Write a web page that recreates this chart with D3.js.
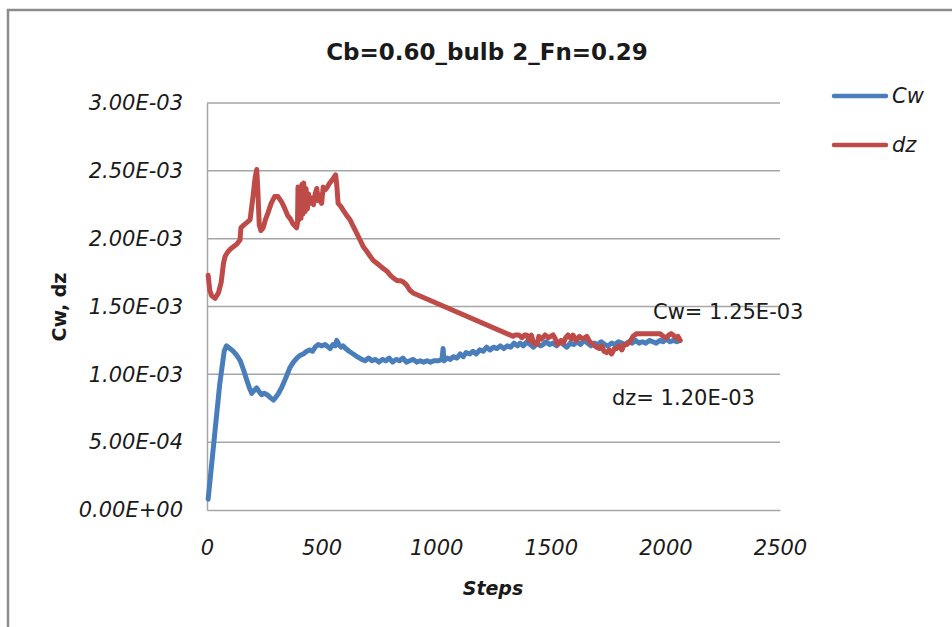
<!DOCTYPE html>
<html>
<head>
<meta charset="utf-8">
<script src="https://cdn.jsdelivr.net/npm/d3@7"></script>
<style>
  body { margin: 0; background: #fff; }
  svg { display: block; }
  text { font-family: "DejaVu Sans", sans-serif; fill: #1a1a1a; }
</style>
</head>
<body>
<svg id="chart" width="952" height="627"></svg>
<script>
// valores en unidades de 1E-03
var UNIT = 1e-3;

var xTicks = [0, 500, 1000, 1500, 2000, 2500];
var yTicks = [0, 0.5, 1.0, 1.5, 2.0, 2.5, 3.0];

var cwSteps = [5, 30, 55, 75, 85, 100, 115, 130, 145, 160, 173, 185, 195, 205, 217, 228, 238, 250, 262, 275,
  290, 300, 312, 325, 338, 350, 362, 377, 392, 406, 420, 435, 449, 460, 472, 485, 500, 515, 530, 537,
  550, 560, 566, 575, 585, 594, 605, 620, 638, 655, 675, 690, 705, 720, 735, 750, 765, 780, 795, 810,
  825, 840, 855, 870, 885, 900, 915, 930, 945, 960, 975, 990, 1010, 1025, 1030, 1034, 1048, 1062, 1075, 1090,
  1105, 1118, 1130, 1147, 1160, 1175, 1190, 1205, 1220, 1235, 1250, 1265, 1280, 1295, 1310, 1325, 1340, 1355, 1366, 1380,
  1395, 1410, 1425, 1440, 1455, 1466, 1480, 1495, 1510, 1525, 1540, 1555, 1570, 1585, 1600, 1615, 1630, 1645, 1660, 1675,
  1690, 1705, 1720, 1735, 1750, 1765, 1780, 1795, 1810, 1825, 1840, 1855, 1870, 1885, 1900, 1915, 1930, 1945, 1960, 1975,
  1990, 2005, 2020, 2035, 2050, 2064];
var cwValues = [0.08, 0.50, 0.92, 1.17, 1.21, 1.19, 1.17, 1.14, 1.10, 1.03, 0.96, 0.90, 0.86, 0.88, 0.90, 0.87, 0.85, 0.86, 0.85, 0.83,
  0.81, 0.83, 0.86, 0.90, 0.95, 1.00, 1.05, 1.09, 1.12, 1.14, 1.15, 1.17, 1.18, 1.17, 1.20, 1.22, 1.21, 1.22, 1.20, 1.19,
  1.22, 1.21, 1.25, 1.22, 1.20, 1.21, 1.19, 1.17, 1.15, 1.13, 1.11, 1.10, 1.12, 1.10, 1.11, 1.09, 1.11, 1.10, 1.12, 1.09,
  1.11, 1.10, 1.12, 1.09, 1.10, 1.11, 1.09, 1.10, 1.09, 1.10, 1.09, 1.10, 1.10, 1.11, 1.19, 1.10, 1.12, 1.11, 1.13, 1.12,
  1.15, 1.13, 1.16, 1.15, 1.17, 1.15, 1.18, 1.17, 1.20, 1.18, 1.20, 1.19, 1.21, 1.19, 1.21, 1.20, 1.23, 1.21, 1.23, 1.21,
  1.24, 1.22, 1.20, 1.23, 1.21, 1.22, 1.24, 1.22, 1.23, 1.21, 1.24, 1.22, 1.20, 1.23, 1.22, 1.24, 1.22, 1.25, 1.23, 1.21,
  1.23, 1.22, 1.24, 1.22, 1.21, 1.23, 1.22, 1.24, 1.23, 1.22, 1.24, 1.23, 1.25, 1.23, 1.24, 1.23, 1.25, 1.24, 1.23, 1.25,
  1.24, 1.26, 1.24, 1.25, 1.24, 1.25];

var dzSteps = [5, 12, 20, 35, 50, 62, 72, 79, 90, 100, 115, 130, 144, 148, 160, 175, 188, 200, 210, 217,
  222, 228, 235, 245, 255, 266, 280, 295, 310, 326, 340, 352, 362, 375, 391, 395, 397, 402, 406, 410,
  414, 418, 422, 428, 432, 438, 443, 450, 458, 465, 472, 479, 486, 493, 500, 507, 515, 525, 535, 545,
  553, 561, 566, 572, 583, 594, 610, 624, 638, 653, 668, 682, 700, 712, 725, 740, 755, 769, 785, 800,
  813, 830, 845, 857, 870, 885, 899, 1336, 1344, 1360, 1375, 1385, 1395, 1405, 1415, 1425, 1440, 1448, 1460, 1475,
  1490, 1510, 1520, 1530, 1545, 1555, 1565, 1575, 1590, 1597, 1610, 1625, 1640, 1657, 1670, 1685, 1700, 1712, 1722, 1732,
  1744, 1755, 1765, 1778, 1788, 1800, 1810, 1820, 1831, 1845, 1859, 1875, 1900, 1930, 1960, 1977, 1990, 2005, 2015, 2025,
  2034, 2045, 2055, 2064];
var dzValues = [1.73, 1.62, 1.58, 1.56, 1.60, 1.68, 1.82, 1.87, 1.90, 1.92, 1.94, 1.96, 1.99, 2.08, 2.10, 2.12, 2.14, 2.30, 2.45, 2.51,
  2.35, 2.10, 2.06, 2.08, 2.14, 2.19, 2.26, 2.31, 2.31, 2.27, 2.22, 2.17, 2.15, 2.11, 2.08, 2.12, 2.38, 2.14, 2.36, 2.15,
  2.40, 2.18, 2.41, 2.20, 2.37, 2.22, 2.33, 2.26, 2.30, 2.25, 2.33, 2.37, 2.28, 2.32, 2.26, 2.38, 2.36, 2.38, 2.41, 2.43,
  2.45, 2.47, 2.40, 2.26, 2.24, 2.21, 2.17, 2.14, 2.09, 2.04, 1.99, 1.94, 1.90, 1.87, 1.84, 1.82, 1.80, 1.78, 1.76, 1.73,
  1.71, 1.69, 1.69, 1.68, 1.66, 1.62, 1.60, 1.28, 1.29, 1.29, 1.27, 1.29, 1.29, 1.25, 1.29, 1.23, 1.22, 1.28, 1.26, 1.29,
  1.27, 1.29, 1.26, 1.22, 1.25, 1.23, 1.27, 1.29, 1.26, 1.29, 1.25, 1.28, 1.26, 1.28, 1.24, 1.22, 1.20, 1.19, 1.21, 1.17,
  1.16, 1.18, 1.15, 1.19, 1.19, 1.21, 1.18, 1.22, 1.22, 1.24, 1.28, 1.30, 1.30, 1.30, 1.30, 1.30, 1.28, 1.27, 1.29, 1.30,
  1.29, 1.27, 1.28, 1.25];

var seriesNames = ["Cw", "dz"];
var seriesColors = ["#4A7EBB", "#BE4B48"];
var annotations = ["Cw= 1.25E-03", "dz= 1.20E-03"];

var margin = { top: 103, bottom: 117, left: 207, right: 172 };
var width = 952, height = 627;

var svg = d3.select("#chart");

// borde del area del grafico
svg.append("rect")
  .attr("x", 8).attr("y", 10)
  .attr("width", 970).attr("height", 640)
  .attr("fill", "none")
  .attr("stroke", "#8c8c8c")
  .attr("stroke-width", 2.5);

var xScale = d3.scaleLinear()
  .domain([0, 2500])
  .range([margin.left, width - margin.right]);

var yScale = d3.scaleLinear()
  .domain([0, 3e-3])
  .range([height - margin.bottom, margin.top]);

function sciFormat(d) {
  var s = d.toExponential(2).split("e");
  var exp = parseInt(s[1], 10);
  var sign = exp < 0 ? "-" : "+";
  var e = Math.abs(exp);
  return s[0] + "E" + sign + (e < 10 ? "0" + e : e);
}

// lineas de cuadricula
svg.append("g")
  .selectAll("line")
  .data(yTicks.filter(function (d) { return d > 0; }))
  .join("line")
  .attr("x1", xScale(0))
  .attr("x2", xScale(2500))
  .attr("y1", function (d) { return yScale(d * UNIT); })
  .attr("y2", function (d) { return yScale(d * UNIT); })
  .attr("stroke", "#a6a6a6")
  .attr("stroke-width", 1.5);

// ejes
var xAxis = d3.axisBottom(xScale).tickValues(xTicks).tickSize(0).tickPadding(30)
  .tickFormat(d3.format("d"));
var gx = svg.append("g")
  .attr("transform", "translate(0," + yScale(0) + ")")
  .call(xAxis);
gx.select(".domain").attr("stroke", "#a6a6a6").attr("stroke-width", 1.5);
gx.selectAll("text")
  .attr("font-family", "DejaVu Sans")
  .attr("font-style", "italic")
  .attr("font-size", 21)
  .attr("fill", "#1a1a1a");

var yAxis = d3.axisLeft(yScale).tickValues(yTicks.map(function (d) { return d * UNIT; }))
  .tickSize(0).tickPadding(24)
  .tickFormat(sciFormat);
var gy = svg.append("g")
  .attr("transform", "translate(" + xScale(0) + ",0)")
  .call(yAxis);
gy.select(".domain").attr("stroke", "#a6a6a6").attr("stroke-width", 1.5);
gy.selectAll("text")
  .attr("font-family", "DejaVu Sans")
  .attr("font-style", "italic")
  .attr("font-size", 21)
  .attr("fill", "#1a1a1a");

// series
var line = d3.line()
  .x(function (d) { return xScale(d[0]); })
  .y(function (d) { return yScale(d[1] * UNIT); });

var cwData = cwSteps.map(function (s, i) { return [s, cwValues[i]]; });
var dzData = dzSteps.map(function (s, i) { return [s, dzValues[i]]; });

[cwData, dzData].forEach(function (data, i) {
  svg.append("path")
    .datum(data)
    .attr("d", line)
    .attr("fill", "none")
    .attr("stroke", seriesColors[i])
    .attr("stroke-width", 5)
    .attr("stroke-linejoin", "round")
    .attr("stroke-linecap", "round");
});

// titulo
svg.append("text")
  .attr("x", 487).attr("y", 52)
  .attr("text-anchor", "middle")
  .attr("dominant-baseline", "central")
  .attr("font-weight", "bold")
  .attr("font-size", 23)
  .text("Cb=0.60_bulb 2_Fn=0.29");

// titulos de ejes
svg.append("text")
  .attr("x", 493).attr("y", 588)
  .attr("text-anchor", "middle")
  .attr("dominant-baseline", "central")
  .attr("font-weight", "bold")
  .attr("font-style", "italic")
  .attr("font-size", 19)
  .text("Steps");

svg.append("text")
  .attr("transform", "translate(59,307) rotate(-90)")
  .attr("text-anchor", "middle")
  .attr("dominant-baseline", "central")
  .attr("font-weight", "bold")
  .attr("font-size", 19)
  .text("Cw, dz");

// leyenda
var legend = svg.append("g");
seriesNames.forEach(function (name, i) {
  var y = 96 + i * 49;
  legend.append("line")
    .attr("x1", 834).attr("x2", 886)
    .attr("y1", y).attr("y2", y)
    .attr("stroke", seriesColors[i])
    .attr("stroke-width", 4.5)
    .attr("stroke-linecap", "round");
  legend.append("text")
    .attr("x", 892).attr("y", y)
    .attr("dominant-baseline", "central")
    .attr("font-style", "italic")
    .attr("font-size", 21)
    .text(name);
});

// anotaciones
svg.append("text")
  .attr("x", 653).attr("y", 312)
  .attr("dominant-baseline", "central")
  .attr("font-size", 21)
  .text(annotations[0]);
svg.append("text")
  .attr("x", 612).attr("y", 398)
  .attr("dominant-baseline", "central")
  .attr("font-size", 21)
  .text(annotations[1]);
</script>
</body>
</html>
